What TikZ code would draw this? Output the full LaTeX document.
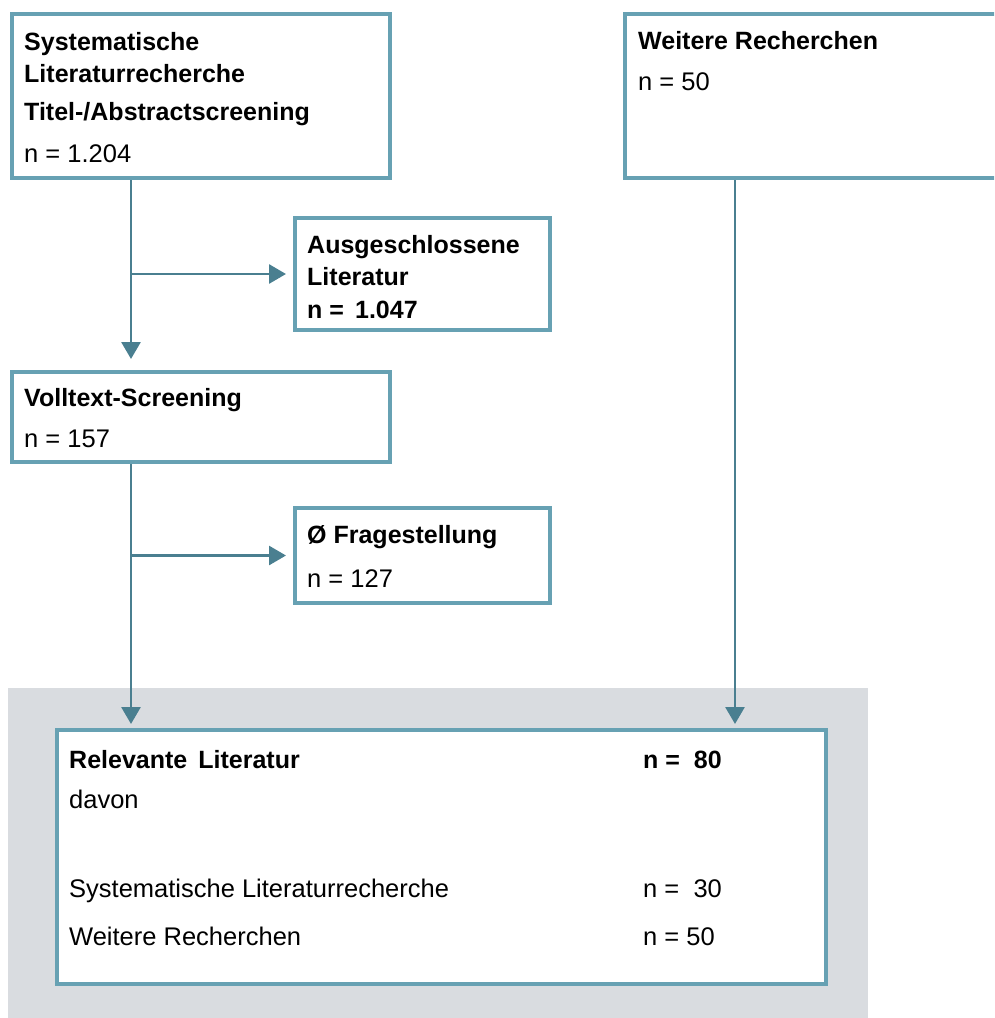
\documentclass[tikz,border=0pt]{standalone}
\usepackage{fontspec}
\setmainfont{Liberation Sans}
\usetikzlibrary{arrows.meta}
\definecolor{boxline}{RGB}{103,161,179}
\definecolor{arrowline}{RGB}{74,127,144}
\definecolor{panelgray}{RGB}{217,220,224}
\tikzset{
  stage/.style={draw=boxline, line width=4pt, fill=white, anchor=north west, inner sep=0pt},
  lbl/.style={anchor=base west, inner sep=0pt, font=\fontsize{25.5}{30}\selectfont},
  blbl/.style={anchor=base west, inner sep=0pt, font=\fontsize{25}{30}\selectfont\bfseries},
  flow/.style={draw=arrowline, line width=2.8pt, -{Triangle[width=19pt,length=17pt]}},
}
\begin{document}
\begin{tikzpicture}[x=1pt,y=-1pt]
    \useasboundingbox (0,0) rectangle (994,1018);
    \clip (0,0) rectangle (994,1018);
    \fill[panelgray] (8,688) rectangle (868,1018);

    % boxes
    \node[stage, minimum width=378pt, minimum height=164pt] at (10,12)  (sys)  {};
    \node[stage, minimum width=380pt, minimum height=164pt] at (623,12) (weit) {};
    \node[stage, minimum width=255pt, minimum height=112pt] at (293,216) (aus)  {};
    \node[stage, minimum width=378pt, minimum height=90pt]  at (10,370) (voll) {};
    \node[stage, minimum width=255pt, minimum height=95pt]  at (293,506) (frage) {};
    \node[stage, minimum width=769pt, minimum height=254pt] at (55,728) (rel)  {};

    % texts
    \node[blbl] at (24,50)   (sys-1) {Systematische};
    \node[blbl] at (24,82)   (sys-2) {Literaturrecherche};
    \node[blbl] at (24,120)  (sys-3) {Titel-/Abstractscreening};
    \node[lbl]  at (24,162)  (sys-n) {n = 1.204};
    \node[blbl] at (638,49)  (weit-1) {Weitere Recherchen};
    \node[lbl]  at (638,90)  (weit-n) {n = 50};
    \node[blbl] at (307,253) (aus-1) {Ausgeschlossene};
    \node[blbl] at (307,285) (aus-2) {Literatur};
    \node[blbl] at (307,318) (aus-n) {n =\, 1.047};
    \node[blbl] at (24,406)  (voll-1) {Volltext-Screening};
    \node[lbl]  at (24,447)  (voll-n) {n = 157};
    \node[blbl] at (307,543) (frage-1) {Ø Fragestellung};
    \node[lbl]  at (307,587) (frage-n) {n = 127};
    \node[blbl] at (69,768)  (rel-1) {Relevante\, Literatur};
    \node[blbl] at (643,768) (rel-n) {n = \ 80};
    \node[lbl]  at (69,808)  (rel-2) {davon};
    \node[lbl]  at (69,897)  (rel-3) {Systematische Literaturrecherche};
    \node[lbl]  at (643,897) (rel-3n) {n = \ 30};
    \node[lbl]  at (69,945)  (rel-4) {Weitere Recherchen};
    \node[lbl]  at (643,945) (rel-4n) {n = 50};

    % connectors
    \coordinate (trunk) at (131,0);
    \coordinate (side)  at (735,0);
    \draw[flow, shorten >=11pt] (sys.south -| trunk) -- (voll.north -| trunk);
    \draw[flow, shorten >=7pt]  (aus.west -| trunk) -- (aus.west);
    \draw[flow, shorten >=4pt]  (voll.south -| trunk) -- (rel.north -| trunk);
    \draw[flow, shorten >=7pt]  (frage.west -| trunk) -- (frage.west);
    \draw[flow, shorten >=4pt]  (weit.south -| side) -- (rel.north -| side);
\end{tikzpicture}
\end{document}
